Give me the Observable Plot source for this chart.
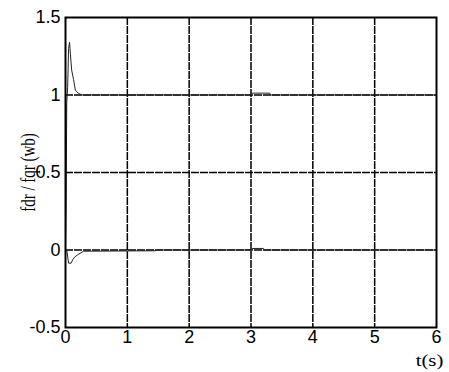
<!DOCTYPE html>
<html>
<head>
<meta charset="utf-8">
<script src="https://cdn.jsdelivr.net/npm/d3@7"></script>
<script src="https://cdn.jsdelivr.net/npm/@observablehq/plot@0.6"></script>
<style>
  html, body { margin: 0; padding: 0; background: #fff; }
  #chart { width: 449px; height: 372px; }
  #chart g[aria-label="x-axis tick label"] text,
  #chart g[aria-label="y-axis tick label"] text { font-size: 18px; font-family: 'Liberation Sans', Arial, sans-serif; }
  #chart .serif-label text { font-family: 'Liberation Serif', 'Times New Roman', serif; }
</style>
</head>
<body>
<div id="chart"></div>
<script>
// fdr trace (Wb) vs time (s)
const fdrT = [0, 0.01, 0.02, 0.035, 0.05, 0.065, 0.08, 0.1, 0.13, 0.16, 0.21, 0.27, 3.0, 3.02, 3.3, 3.32, 6];
const fdrV = [0, 0.3, 0.95, 1.05, 1.3, 1.34, 1.26, 1.16, 1.1, 1.03, 1.01, 1.0, 1.0, 1.012, 1.012, 1.0, 1.0];
// fqr trace (Wb) vs time (s)
const fqrT = [0, 0.02, 0.05, 0.09, 0.12, 0.15, 0.2, 0.29, 1.0, 1.45, 1.5, 3.0, 3.02, 3.2, 3.22, 6];
const fqrV = [0, 0, -0.085, -0.085, -0.06, -0.045, -0.03, -0.008, -0.006, -0.005, 0, 0, 0.01, 0.01, 0, 0];

const xTicks = [0, 1, 2, 3, 4, 5, 6];
const xTickLabels = ["0", "1", "2", "3", "4", "5", "6"];
const yTicks = [-0.5, 0, 0.5, 1, 1.5];
const yTickLabels = ["-0.5", "0", "0.5", "1", "1.5"];
const xLabel = "t(s)";
const yLabel = "fdr / fqr (wb)";

const fdr = fdrT.map((t, i) => ({t, v: fdrV[i]}));
const fqr = fqrT.map((t, i) => ({t, v: fqrV[i]}));

const chart = Plot.plot({
  width: 449,
  height: 372,
  marginLeft: 65,
  marginRight: 13,
  marginTop: 17,
  marginBottom: 45,
  style: {background: "#fff", color: "#000", overflow: "visible"},
  x: {domain: [0, 6]},
  y: {domain: [-0.5, 1.5]},
  marks: [
    Plot.ruleX(xTicks.slice(1, -1), {stroke: "#000", strokeWidth: 1.5, strokeDasharray: "8,1"}),
    Plot.ruleY(yTicks.slice(1, -1), {stroke: "#000", strokeWidth: 1.5, strokeDasharray: "8,1"}),
    Plot.line(fdr, {x: "t", y: "v", stroke: "#222", strokeWidth: 1}),
    Plot.line(fqr, {x: "t", y: "v", stroke: "#222", strokeWidth: 1}),
    Plot.frame({stroke: "#000", strokeWidth: 2}),
    Plot.axisX(xTicks, {tickSize: 0, tickPadding: 3, tickFormat: (d, i) => xTickLabels[i], label: null}),
    Plot.axisY(yTicks, {tickSize: 0, tickPadding: 5, tickFormat: (d, i) => yTickLabels[i], label: null}),
    Plot.text([xLabel], {frameAnchor: "bottom-right", dx: -7, dy: 38, fontSize: 16, className: "serif-label xlab", textAnchor: "middle"}),
    Plot.text([yLabel], {frameAnchor: "left", dx: -37, rotate: -90, textAnchor: "middle", fontSize: 15, className: "serif-label ylab"})
  ]
});
document.getElementById("chart").appendChild(chart);

// mimic the horizontally stretched lettering of the source figure
function stretch(sel, sx, sy) {
  chart.querySelectorAll(sel).forEach(t => {
    const b = t.getBBox();
    const cx = b.x + b.width / 2, cy = b.y + b.height / 2;
    const tr = t.getAttribute("transform") || "";
    t.setAttribute("transform", `${tr} translate(${cx},${cy}) scale(${sx},${sy}) translate(${-cx},${-cy})`);
  });
}
stretch("g.xlab text", 1.3, 1);
stretch("g.ylab text", 1, 1.4);
</script>
</body>
</html>
